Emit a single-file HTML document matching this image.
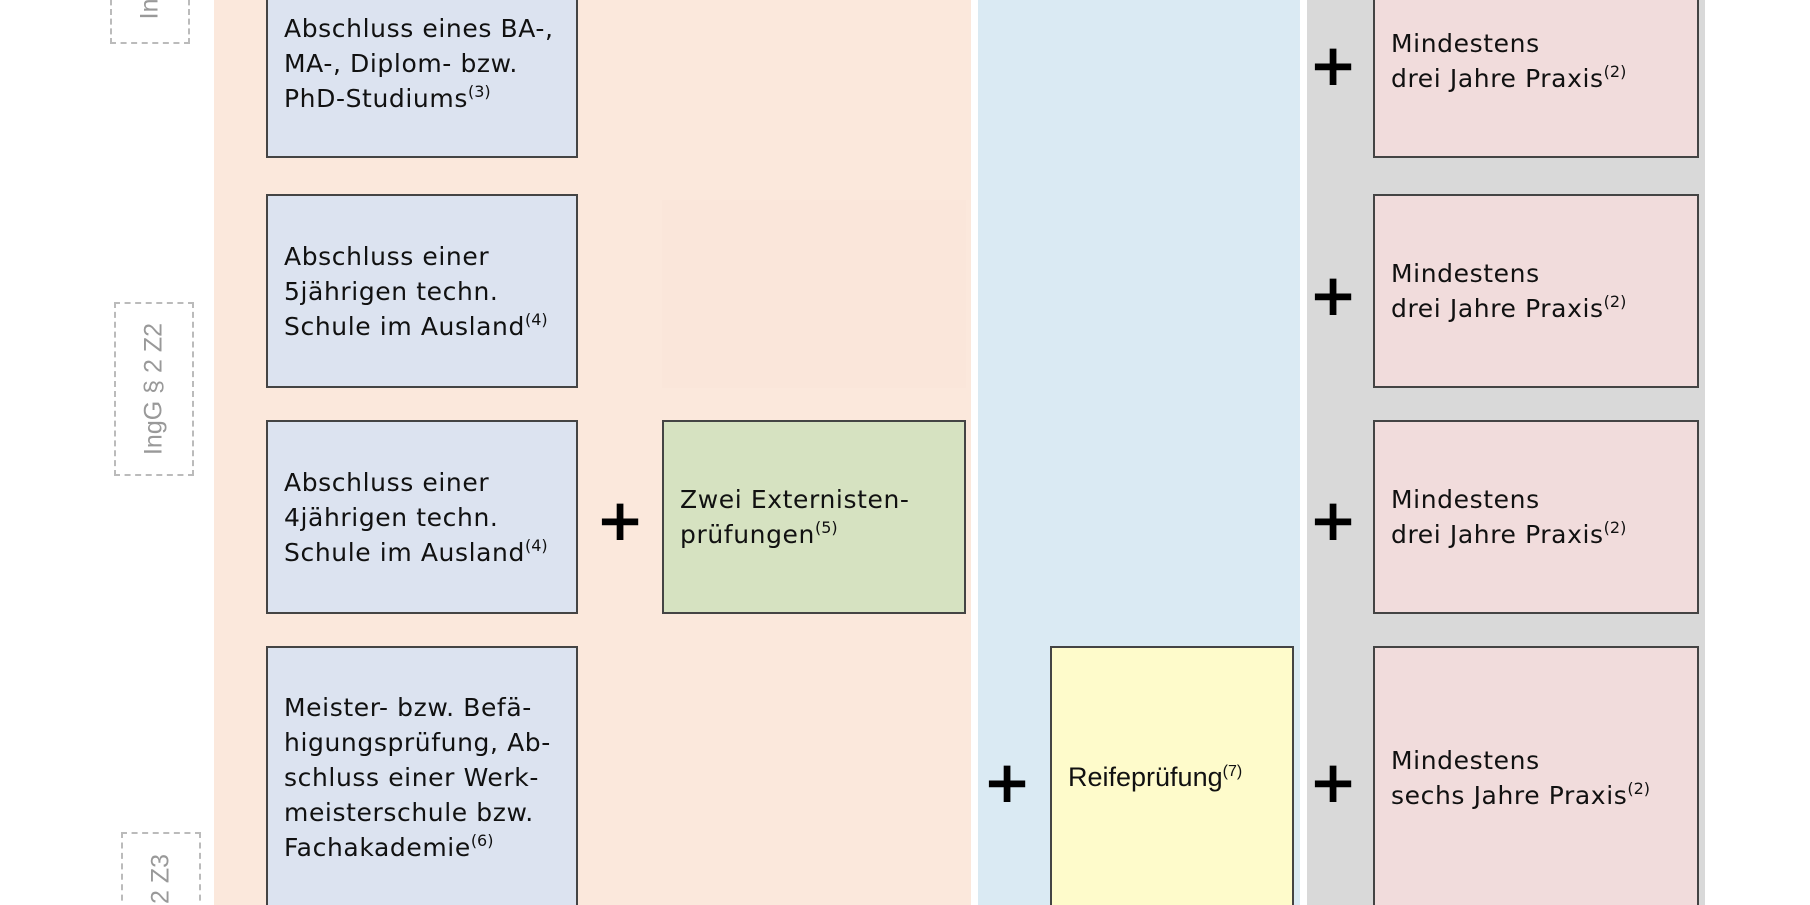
<!DOCTYPE html>
<html style="overflow:hidden;width:1810px;height:905px"><head><meta charset="utf-8"><style>
html,body{margin:0;width:1810px;height:905px;overflow:hidden;}
body{background:#fff;position:relative;font-family:"DejaVu Sans","Liberation Sans",sans-serif;}
div{position:absolute;box-sizing:border-box;}
.col{top:0;height:905px;}
.box{border:2px solid #444;font-size:25px;line-height:35px;color:#111;padding-left:16px;display:flex;align-items:center;letter-spacing:0.6px;}
.box>div{position:static;}
.blue{background:#dce3f0;left:266px;width:312px;}
.pink{background:#f1dcdc;left:1373px;width:326px;}
sup{font-size:16px;line-height:0;vertical-align:10px;letter-spacing:0;}
.plus{font-size:58px;font-weight:bold;line-height:56px;width:50px;text-align:center;font-family:"DejaVu Sans",sans-serif;color:#000;}
.lab{border:2px dashed #bbb;color:#999;font-family:"Liberation Sans",sans-serif;font-size:25px;}
.lab span{position:absolute;left:50%;top:50%;transform:translate(-50%,-50%) rotate(-90deg);white-space:nowrap;}
</style></head><body>
<div class="col" style="left:214px;width:757px;background:#fbe8dc"></div>
<div class="col" style="left:978px;width:322px;background:#daeaf3"></div>
<div class="col" style="left:1307px;width:398px;background:#d9d9d9"></div>

<div class="lab" style="left:110px;top:-20px;width:80px;height:64px"><span style="top:20px">Ing</span></div>
<div class="lab" style="left:114px;top:302px;width:80px;height:174px"><span>IngG § 2 Z2</span></div>
<div class="lab" style="left:121px;top:832px;width:80px;height:100px"><span style="top:45px">2 Z3</span></div>

<div class="box blue" style="top:-10px;height:168px;padding-bottom:22px"><div>Abschluss eines BA-,<br>MA-, Diplom- bzw.<br>PhD-Studiums<sup>(3)</sup></div></div>
<div class="box blue" style="top:194px;height:194px"><div>Abschluss einer<br>5jährigen techn.<br>Schule im Ausland<sup>(4)</sup></div></div>
<div class="box blue" style="top:420px;height:194px"><div>Abschluss einer<br>4jährigen techn.<br>Schule im Ausland<sup>(4)</sup></div></div>
<div class="box blue" style="top:646px;height:270px;align-items:flex-start;padding-top:42px"><div>Meister- bzw. Befä-<br>higungsprüfung, Ab-<br>schluss einer Werk-<br>meisterschule bzw.<br>Fachakademie<sup>(6)</sup></div></div>

<div style="left:662px;top:200px;width:304px;height:188px;background:#fae6da"></div>
<div class="box" style="left:662px;top:420px;width:304px;height:194px;background:#d6e2c1"><div>Zwei Externisten-<br>prüfungen<sup>(5)</sup></div></div>
<div class="box" style="left:1050px;top:646px;width:244px;height:270px;background:#fefbcb;align-items:flex-start;padding-top:112px;font-family:'Liberation Sans',sans-serif;font-size:27px;letter-spacing:0"><div>Reifeprüfung<sup>(7)</sup></div></div>

<div class="box pink" style="top:-10px;height:168px;padding-bottom:26px"><div>Mindestens<br>drei Jahre Praxis<sup>(2)</sup></div></div>
<div class="box pink" style="top:194px;height:194px"><div>Mindestens<br>drei Jahre Praxis<sup>(2)</sup></div></div>
<div class="box pink" style="top:420px;height:194px"><div>Mindestens<br>drei Jahre Praxis<sup>(2)</sup></div></div>
<div class="box pink" style="top:646px;height:270px;align-items:flex-start;padding-top:95px"><div>Mindestens<br>sechs Jahre Praxis<sup>(2)</sup></div></div>

<div class="plus" style="left:595px;top:492px">+</div>
<div class="plus" style="left:982px;top:754px">+</div>
<div class="plus" style="left:1308px;top:37px">+</div>
<div class="plus" style="left:1308px;top:267px">+</div>
<div class="plus" style="left:1308px;top:492px">+</div>
<div class="plus" style="left:1308px;top:754px">+</div>
</body></html>
